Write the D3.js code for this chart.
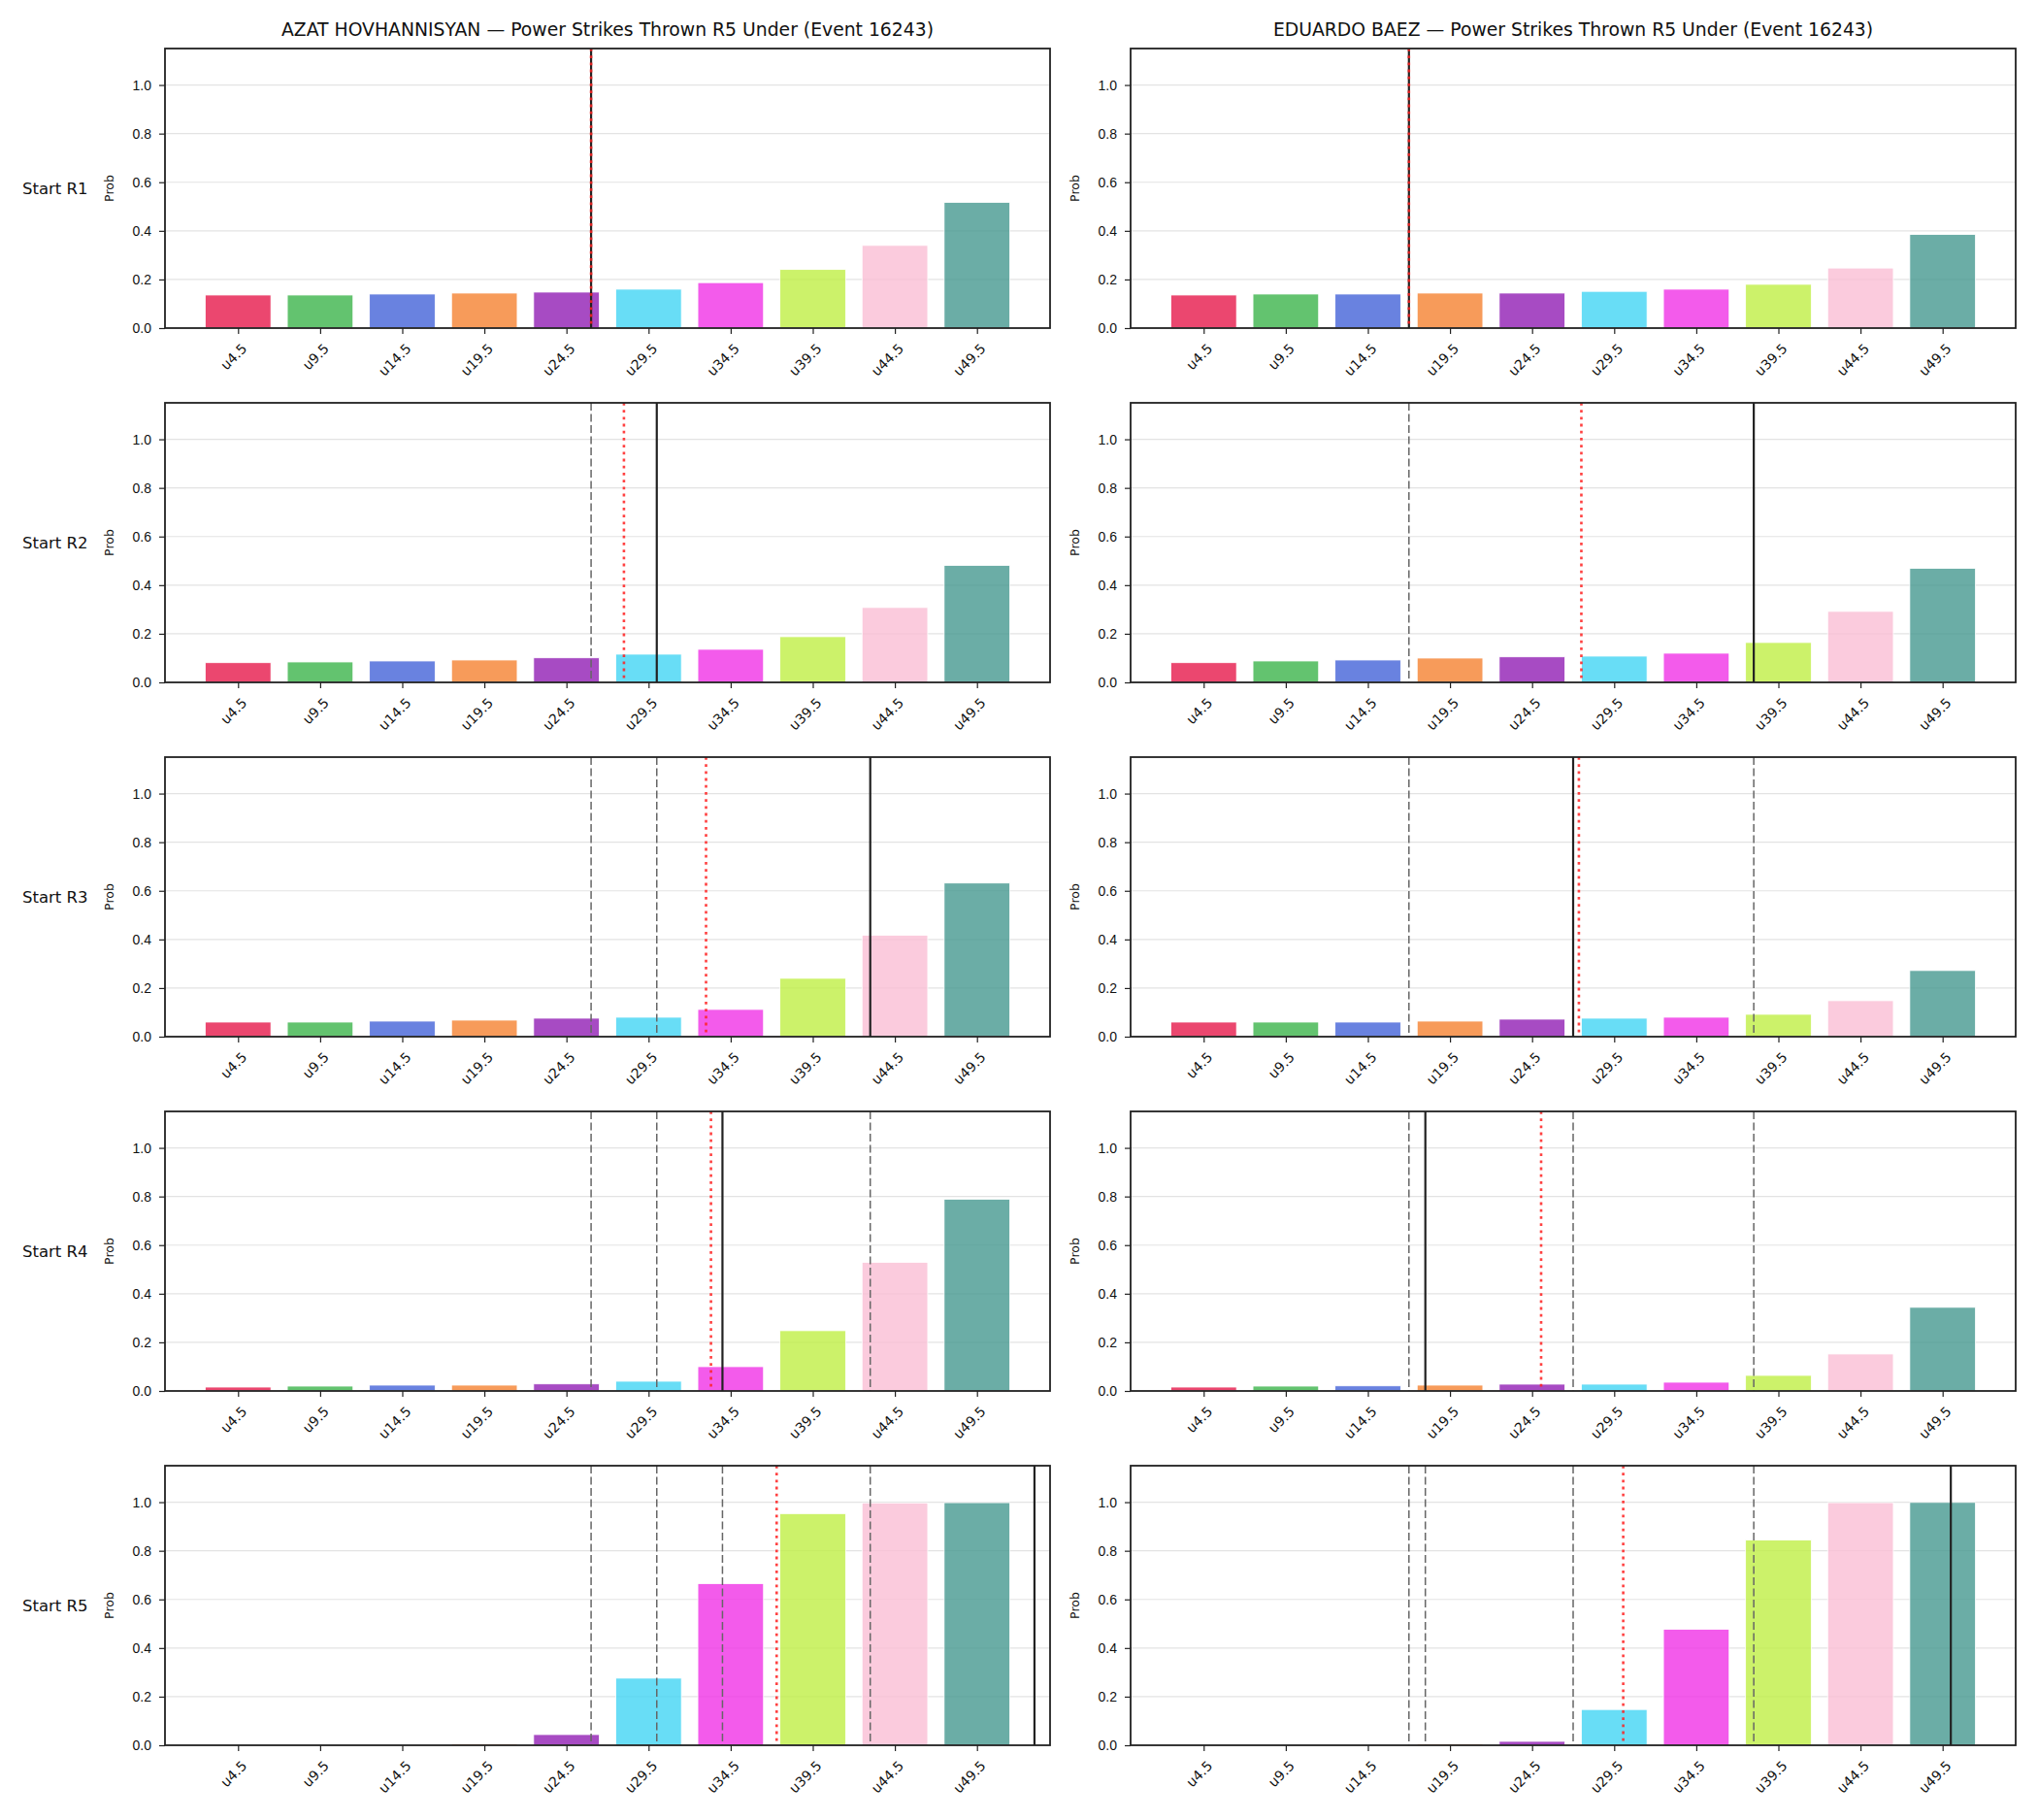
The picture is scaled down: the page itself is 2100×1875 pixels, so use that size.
<!DOCTYPE html>
<html>
<head>
<meta charset="utf-8">
<script src="https://cdn.jsdelivr.net/npm/d3@7"></script>
<style>
  html, body { margin: 0; padding: 0; background: #fff; }
  svg { display: block; font-family: "DejaVu Sans", sans-serif; }
</style>
</head>
<body>
<div id="chart"></div>
<script>
// Under-line ladders per round, one column per fighter.
const thresholds = ['u4.5', 'u9.5', 'u14.5', 'u19.5', 'u24.5', 'u29.5', 'u34.5', 'u39.5', 'u44.5', 'u49.5'];
const lineValues = [4.5, 9.5, 14.5, 19.5, 24.5, 29.5, 34.5, 39.5, 44.5, 49.5];
const rounds = ['Start R1', 'Start R2', 'Start R3', 'Start R4', 'Start R5'];
const fighters = ['AZAT HOVHANNISYAN', 'EDUARDO BAEZ'];
const titleSuffix = ' — Power Strikes Thrown R5 Under (Event 16243)';
const barColors = ['#e6194b', '#3cb44b', '#4363d8', '#f58231', '#911eb4', '#42d4f4', '#f032e6', '#bfef45', '#fabed4', '#469990'];

// P(under) per threshold, rows = start of round
const azatProbs = [
  [0.136, 0.136, 0.140, 0.144, 0.148, 0.160, 0.187, 0.241, 0.340, 0.517],
  [0.081, 0.084, 0.088, 0.092, 0.101, 0.116, 0.136, 0.188, 0.308, 0.481],
  [0.060, 0.060, 0.064, 0.068, 0.076, 0.080, 0.112, 0.240, 0.417, 0.632],
  [0.016, 0.020, 0.024, 0.024, 0.029, 0.040, 0.100, 0.248, 0.529, 0.789],
  [0.000, 0.000, 0.002, 0.006, 0.044, 0.276, 0.665, 0.953, 0.997, 0.998],
];
const baezProbs = [
  [0.136, 0.140, 0.140, 0.144, 0.144, 0.151, 0.160, 0.180, 0.247, 0.385],
  [0.081, 0.088, 0.092, 0.100, 0.105, 0.108, 0.120, 0.164, 0.292, 0.469],
  [0.060, 0.060, 0.060, 0.064, 0.072, 0.076, 0.080, 0.092, 0.148, 0.272],
  [0.016, 0.020, 0.021, 0.024, 0.028, 0.028, 0.036, 0.064, 0.152, 0.344],
  [0.000, 0.000, 0.002, 0.006, 0.016, 0.147, 0.477, 0.844, 0.998, 0.999],
];
// solid line per round (earlier rounds reappear dashed), red dotted = projection
const azatMarks = [26, 30, 43, 34, 53];
const baezMarks = [17, 38, 27, 18, 50];
const azatProj = [26, 28, 33, 33.3, 37.3];
const baezProj = [17, 27.5, 27.35, 25.05, 30.05];

const W = 2100, H = 1875;
const colX = [170, 1165];
const axW = 912, axH = 288;
const rowTop = 50, rowPitch = 365;

const svg = d3.select('#chart').append('svg')
  .attr('width', W).attr('height', H)
  .attr('viewBox', [0, 0, W, H]);
svg.append('rect').attr('width', W).attr('height', H).attr('fill', '#fff');

const x = d3.scaleLinear().domain([-0.89, 9.89]).range([0, axW]);
const xVal = d3.scaleLinear().domain([lineValues[0], lineValues[9]]).range([x(0), x(9)]);
const y = d3.scaleLinear().domain([0, 1.15]).range([axH, 0]);

const columns = [
  { name: fighters[0], probs: azatProbs, marks: azatMarks, proj: azatProj },
  { name: fighters[1], probs: baezProbs, marks: baezMarks, proj: baezProj },
];

columns.forEach((col, ci) => {
  svg.append('text')
    .attr('x', colX[ci] + axW / 2)
    .attr('y', rowTop - 13)
    .attr('text-anchor', 'middle')
    .style('font-size', '18.8px')
    .attr('fill', '#111')
    .text(col.name + titleSuffix);

  rounds.forEach((rl, ri) => {
    const top = rowTop + ri * rowPitch;
    const g = svg.append('g').attr('transform', `translate(${colX[ci]},${top})`);

    // grid
    g.append('g').selectAll('line')
      .data([0.2, 0.4, 0.6, 0.8, 1.0])
      .join('line')
      .attr('x1', 0).attr('x2', axW)
      .attr('y1', d => y(d)).attr('y2', d => y(d))
      .attr('stroke', '#e3e3e3').attr('stroke-width', 1.2);

    // bars
    g.append('g').selectAll('rect')
      .data(col.probs[ri])
      .join('rect')
      .attr('x', (d, i) => x(i - 0.4))
      .attr('width', x(0.8) - x(0))
      .attr('y', d => y(d))
      .attr('height', d => axH - y(d))
      .attr('fill', (d, i) => barColors[i])
      .attr('fill-opacity', 0.8)
      .attr('stroke', '#fff').attr('stroke-width', 0.8);

    // previous rounds, dashed
    g.append('g').selectAll('line')
      .data(col.marks.slice(0, ri))
      .join('line')
      .attr('x1', d => xVal(d)).attr('x2', d => xVal(d))
      .attr('y1', 0).attr('y2', axH)
      .attr('stroke', '#666').attr('stroke-width', 1.5)
      .attr('stroke-dasharray', '8,3.5');

    const m = xVal(col.marks[ri]);
    g.append('line')
      .attr('x1', m).attr('x2', m).attr('y1', 0).attr('y2', axH)
      .attr('stroke', '#222').attr('stroke-width', 2.2);

    const p = xVal(col.proj[ri]);
    g.append('line')
      .attr('x1', p).attr('x2', p).attr('y1', 0).attr('y2', axH)
      .attr('stroke', '#ff2020').attr('stroke-opacity', 0.85)
      .attr('stroke-width', 2.6).attr('stroke-dasharray', '2.8,4.4');

    // y axis
    const ya = g.append('g')
      .call(d3.axisLeft(y).tickValues([0, 0.2, 0.4, 0.6, 0.8, 1.0])
        .tickFormat(d3.format('.1f')).tickSize(6).tickPadding(8));
    ya.select('.domain').remove();
    ya.selectAll('line').attr('stroke', '#222').attr('stroke-width', 1.2);
    ya.selectAll('text').style('font-size', '14px').attr('fill', '#111');

    // x axis
    const xa = g.append('g').attr('transform', `translate(0,${axH})`)
      .call(d3.axisBottom(x).tickValues(d3.range(10)).tickSize(6).tickFormat(''));
    xa.select('.domain').remove();
    xa.selectAll('line').attr('stroke', '#222').attr('stroke-width', 1.2);
    g.append('g').selectAll('text')
      .data(thresholds)
      .join('text')
      .attr('transform', (d, i) => `translate(${x(i) + 3},${axH + 15}) rotate(-45)`)
      .attr('text-anchor', 'end')
      .attr('dy', '0.7em')
      .style('font-size', '14px')
      .attr('fill', '#111')
      .text(d => d);

    // frame
    g.append('rect')
      .attr('width', axW).attr('height', axH)
      .attr('fill', 'none').attr('stroke', '#222').attr('stroke-width', 1.8);

    g.append('text')
      .attr('transform', `translate(-53,${axH / 2}) rotate(-90)`)
      .attr('text-anchor', 'middle')
      .style('font-size', '12.5px')
      .attr('fill', '#111')
      .text('Prob');

    if (ci === 0) {
      svg.append('text')
        .attr('x', 23)
        .attr('y', top + axH / 2)
        .attr('dy', '0.35em')
        .style('font-size', '16.5px')
        .attr('fill', '#111')
        .text(rl);
    }
  });
});
</script>
</body>
</html>
